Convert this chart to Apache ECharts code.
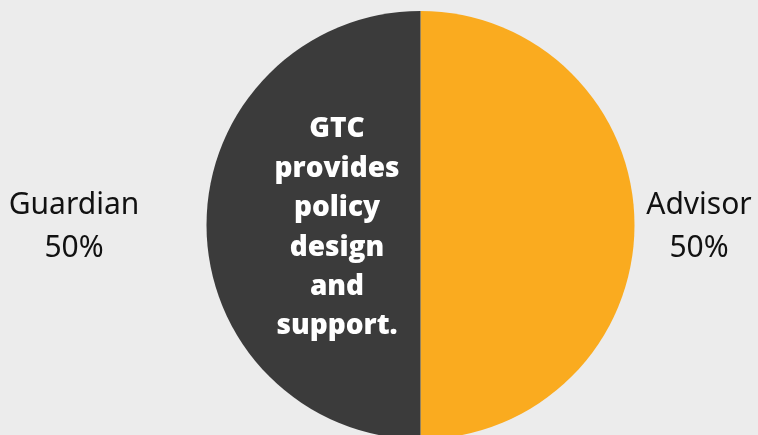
<!DOCTYPE html>
<html>
<head>
<meta charset="utf-8">
<script src="https://cdn.jsdelivr.net/npm/echarts@6/dist/echarts.min.js"></script>
<style>
  html, body { margin: 0; padding: 0; background: #ececec; }
  #chart { width: 758px; height: 435px; }
</style>
</head>
<body>
<div id="chart"></div>
<script>
// Role split shown as a half-and-half pie
const roles = ['Advisor', 'Guardian'];
const shares = [50, 50];
const roleColors = ['#faab1f', '#3b3b3b'];
const centerNote = ['GTC', 'provides', 'policy', 'design', 'and', 'support.'];

const chart = echarts.init(document.getElementById('chart'), null, { renderer: 'canvas' });

chart.setOption({
  backgroundColor: '#ececec',
  animation: false,
  series: [{
    type: 'pie',
    center: [420.5, 225],
    radius: 214,
    startAngle: 90,
    clockwise: true,
    silent: true,
    data: roles.map((name, i) => ({
      name: name,
      value: shares[i],
      itemStyle: { color: roleColors[i] }
    })),
    label: {
      show: true,
      formatter: '{b}\n{d}%',
      fontFamily: 'Noto Sans',
      fontSize: 30,
      lineHeight: 43,
      color: '#111111',
      align: 'center',
      overflow: 'none',
      width: 170
    },
    labelLine: { show: false },
    labelLayout: function (params) {
      return {
        x: params.dataIndex === 0 ? 699 : 74,
        y: 227,
        align: 'center',
        verticalAlign: 'middle'
      };
    }
  }],
  graphic: [{
    type: 'text',
    x: 337,
    y: 228,
    z: 100,
    style: {
      text: centerNote.join('\n'),
      align: 'center',
      verticalAlign: 'middle',
      fill: '#ffffff',
      fontFamily: 'Open Sans',
      fontWeight: 800,
      fontSize: 28,
      lineHeight: 39.4
    }
  }]
});
</script>
</body>
</html>
